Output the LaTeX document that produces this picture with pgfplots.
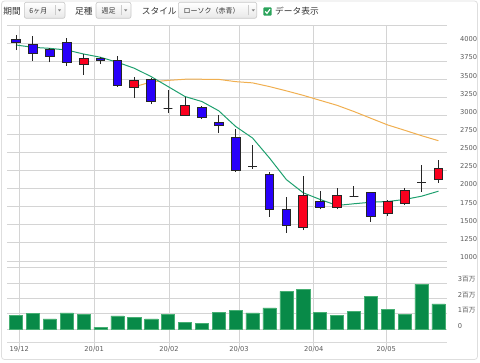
\documentclass[border=0pt]{standalone}
\usepackage{fontspec}
\setmainfont{DejaVu Sans}
\newfontfamily\jp{Noto Sans CJK JP}
\usepackage{pgfplots}
\pgfplotsset{compat=1.18}
\definecolor{cblue}{RGB}{40,0,250}
\definecolor{cred}{RGB}{250,0,30}
\definecolor{magreen}{RGB}{30,160,110}
\definecolor{maorange}{RGB}{240,175,80}
\definecolor{volfill}{RGB}{8,138,72}
\definecolor{voledge}{RGB}{70,175,115}
\definecolor{gridc}{RGB}{212,212,212}
\definecolor{labc}{RGB}{90,90,90}
\definecolor{txt}{RGB}{51,51,51}
\definecolor{chk}{RGB}{42,163,90}

% #1 left, #2 centre, #3 right, #4 low, #5 body bottom, #6 body top, #7 high, #8 colour
\newcommand\candle[8]{%
  \addplot[black!85, line width=0.9bp] coordinates {(#2,#4) (#2,#7)};
  \addplot[draw=black!85, fill=#8, line width=0.8bp] coordinates {(#1,#5) (#3,#5) (#3,#6) (#1,#6)} -- cycle;}

\pgfplotsset{
 chartbase/.style={scale only axis, width=439.4bp, xmin=-0.515, xmax=25.49,
   axis line style={draw=none}, grid=major, grid style={gridc, line width=0.8bp},
   xtick={0.195,4.624,9.053,13.196,17.625,21.91},
   ticklabel style={font=\fontsize{6.7bp}{8bp}\selectfont, text=labc},
   yticklabel pos=right, ytick style={draw=none},
   xtick pos=left, tick align=outside, xtick style={gridc, line width=0.8bp},
   yticklabel style={anchor=west, inner sep=0pt},
   /pgf/number format/.cd, 1000 sep={}, assume math mode=true}
}

\begin{document}
\begin{tikzpicture}
\useasboundingbox (0,0) rectangle (480bp,363bp);
\begin{scope}[x=1bp,y=1bp]
% frame
\draw[rounded corners=3bp, draw=black!13, line width=0.8bp] (1.5,3.5) rectangle (477.5,362);
% toolbar
\tikzset{hdr/.style={anchor=west, inner sep=0pt, text=txt, font=\fontsize{8.7bp}{10bp}\jp},
  btn/.style={rounded corners=2bp, draw=black!22, top color=white, bottom color=black!9, line width=0.6bp},
  btxt/.style={anchor=west, inner sep=0pt, text=txt, font=\fontsize{7bp}{9bp}\jp}}
\node[hdr] at (3.3,351.7) {期間};
\path[btn] (24.3,344.7) rectangle (65,360.7);
\node[btxt] at (29.3,352.2) {6ヶ月};
\draw[black!20, line width=0.6bp] (55,347.5) -- (55,358);
\fill[black!50] (58,353.5) -- (61,353.5) -- (59.5,351.5) -- cycle;
\node[hdr] at (75,351.7) {足種};
\path[btn] (96,344.7) rectangle (131,360.7);
\node[btxt] at (101.5,352.2) {週足};
\draw[black!20, line width=0.6bp] (121,347.5) -- (121,358);
\fill[black!50] (124.2,353.5) -- (127.2,353.5) -- (125.7,351.5) -- cycle;
\node[hdr] at (141.7,351.7) {スタイル};
\path[btn] (178.3,344.7) rectangle (256.7,360.7);
\node[btxt] at (183.5,352.2) {ローソク（赤青）};
\draw[black!20, line width=0.6bp] (248.3,347.5) -- (248.3,358);
\fill[black!50] (251.8,353.5) -- (254.8,353.5) -- (253.3,351.5) -- cycle;
\fill[chk, rounded corners=1bp] (263.3,347.3) rectangle (271.7,355.7);
\draw[white, line width=1.2bp] (265.2,351.6) -- (267,349.6) -- (270,353.8);
\node[hdr] at (275,351.7) {データ表示};
\end{scope}

% price panel
\begin{axis}[chartbase, at={(7.3bp,102bp)}, anchor=south west, height=235.8bp,
  ymin=1000, ymax=4250, ytick={1000,1250,...,4000},
  extra y ticks={4250}, extra y tick labels={},
  xticklabels={}, major tick length=6.7bp,
  yticklabel style={xshift=6.6bp, yshift=4bp}]
\addplot[maorange, line width=1bp] coordinates {
(7,3400) (8,3468) (9,3489) (10,3505) (11,3505) (12,3503) (13,3472) (14,3455)
(15,3404) (16,3345) (17,3283) (18,3214) (19,3146) (20,3060) (21,2967) (22,2875)
(23,2802) (24,2727) (25,2658)};
\addplot[magreen, line width=1bp] coordinates {
(0,3977) (1,3945) (2,3931) (3,3908) (4,3853) (5,3808) (6,3739) (7,3657) (8,3541)
(9,3404) (10,3267) (11,3198) (12,3070) (13,2854) (14,2695) (15,2420) (16,2122)
(17,1940) (18,1848) (19,1765) (20,1789) (21,1810) (22,1820) (23,1848) (24,1893) (25,1962)};
\candle{-0.26}{0}{0.26}{3908}{4008}{4055}{4110}{cblue}
\candle{0.74}{1}{1.26}{3761}{3863}{3990}{4100}{cblue}
\candle{1.74}{2}{2.26}{3739}{3826}{3918}{3931}{cblue}
\candle{2.74}{3}{3.26}{3688}{3739}{4008}{4069}{cblue}
\candle{3.74}{4}{4.26}{3565}{3712}{3794}{3849}{cred}
\candle{4.74}{5}{5.26}{3712}{3766}{3798}{3808}{cblue}
\candle{5.74}{6}{6.26}{3404}{3418}{3761}{3826}{cblue}
\candle{6.74}{7}{7.26}{3253}{3396}{3486}{3533}{cred}
\candle{7.74}{8}{8.26}{3162}{3203}{3505}{3519}{cblue}
\candle{8.74}{9}{9.26}{3038}{3107}{3107}{3359}{black}
\candle{9.74}{10}{10.26}{3006}{3006}{3143}{3267}{cred}
\candle{10.74}{11}{11.26}{2964}{2978}{3121}{3143}{cblue}
\candle{11.74}{12}{12.26}{2764}{2868}{2905}{3015}{cblue}
\candle{12.74}{13}{13.26}{2232}{2242}{2709}{2823}{cblue}
\candle{13.74}{14}{14.26}{2269}{2305}{2305}{2603}{black}
\candle{14.74}{15}{15.26}{1610}{1710}{2187}{2228}{cblue}
\candle{15.74}{16}{16.26}{1390}{1490}{1706}{1879}{cblue}
\candle{16.74}{17}{17.26}{1426}{1459}{1903}{2177}{cred}
\candle{17.74}{18}{18.26}{1710}{1738}{1820}{1962}{cblue}
\candle{18.74}{19}{19.26}{1710}{1738}{1899}{2008}{cred}
\candle{19.74}{20}{20.26}{1885}{1893}{1893}{2040}{black}
\candle{20.74}{21}{21.26}{1536}{1610}{1940}{1948}{cblue}
\candle{21.74}{22}{22.26}{1618}{1651}{1820}{1834}{cred}
\candle{22.74}{23}{23.26}{1775}{1793}{1975}{2008}{cred}
\candle{23.74}{24}{24.26}{1953}{2085}{2085}{2328}{black}
\candle{24.74}{25}{25.26}{2077}{2118}{2273}{2387}{cred}
\end{axis}

% volume panel
\begin{axis}[chartbase, at={(7.3bp,20.7bp)}, anchor=south west, height=74.6bp,
  ymin=-0.845, ymax=4, ytick={0,1,2,3,4},
  yticklabels={0,1{\jp 百万},2{\jp 百万},3{\jp 百万},{}},
  extra y ticks={-0.845}, extra y tick labels={},
  extra y tick style={grid style={color=black!15, line width=0.8bp}},
  xticklabels={19/12,20/01,20/02,20/03,20/04,20/05},
  major tick length=4.4bp,
  xticklabel style={anchor=base, yshift=-5bp},
  yticklabel style={xshift=6.6bp, yshift=3.5bp}]
\addplot[ybar, bar width=0.78, fill=volfill, draw=voledge, line width=0.5bp] coordinates {
(0,0.91) (1,1.02) (2,0.67) (3,1.07) (4,0.96) (5,0.13) (6,0.87) (7,0.76) (8,0.67)
(9,0.98) (10,0.43) (11,0.37) (12,1.09) (13,1.24) (14,1.07) (15,1.39) (16,2.46)
(17,2.59) (18,1.11) (19,0.91) (20,1.17) (21,2.13) (22,1.28) (23,0.98) (24,2.93) (25,1.65)};
\end{axis}
\end{tikzpicture}
\end{document}
